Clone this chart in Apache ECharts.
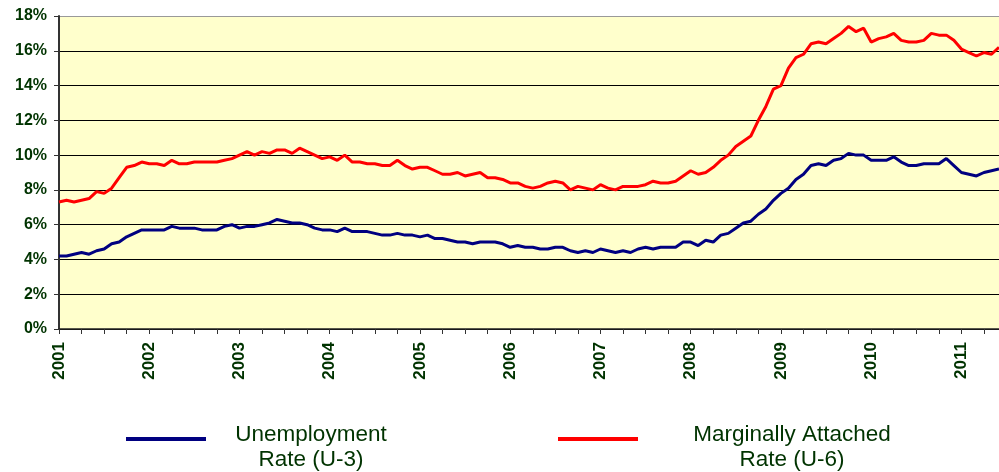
<!DOCTYPE html>
<html>
<head>
<meta charset="utf-8">
<script src="https://cdn.jsdelivr.net/npm/echarts@6/dist/echarts.min.js"></script>
<style>
  html, body { margin: 0; padding: 0; background: #fff; }
  #chart { width: 999px; height: 472px; }
</style>
</head>
<body>
<div id="chart"></div>
<script>
// years on the axis, monthly points from Jan 2001 to Jun 2011
var years = ['2001', '2002', '2003', '2004', '2005', '2006', '2007', '2008', '2009', '2010', '2011'];
var monthsInLastYear = 6;

// Unemployment Rate (U-3), %
var u3 = [
    4.2, 4.2, 4.3, 4.4, 4.3, 4.5, 4.6, 4.9, 5.0, 5.3, 5.5, 5.7,
    5.7, 5.7, 5.7, 5.9, 5.8, 5.8, 5.8, 5.7, 5.7, 5.7, 5.9, 6.0,
    5.8, 5.9, 5.9, 6.0, 6.1, 6.3, 6.2, 6.1, 6.1, 6.0, 5.8, 5.7,
    5.7, 5.6, 5.8, 5.6, 5.6, 5.6, 5.5, 5.4, 5.4, 5.5, 5.4, 5.4,
    5.3, 5.4, 5.2, 5.2, 5.1, 5.0, 5.0, 4.9, 5.0, 5.0, 5.0, 4.9,
    4.7, 4.8, 4.7, 4.7, 4.6, 4.6, 4.7, 4.7, 4.5, 4.4, 4.5, 4.4,
    4.6, 4.5, 4.4, 4.5, 4.4, 4.6, 4.7, 4.6, 4.7, 4.7, 4.7, 5.0,
    5.0, 4.8, 5.1, 5.0, 5.4, 5.5, 5.8, 6.1, 6.2, 6.6, 6.9, 7.4,
    7.8, 8.1, 8.6, 8.9, 9.4, 9.5, 9.4, 9.7, 9.8, 10.1, 10.0, 10.0,
    9.7, 9.7, 9.7, 9.9, 9.6, 9.4, 9.4, 9.5, 9.5, 9.5, 9.8, 9.4,
    9.0, 8.9, 8.8, 9.0, 9.1, 9.2
];

// Marginally Attached Rate (U-6), %
var u6 = [
    7.3, 7.4, 7.3, 7.4, 7.5, 7.9, 7.8, 8.1, 8.7, 9.3, 9.4, 9.6,
    9.5, 9.5, 9.4, 9.7, 9.5, 9.5, 9.6, 9.6, 9.6, 9.6, 9.7, 9.8,
    10.0, 10.2, 10.0, 10.2, 10.1, 10.3, 10.3, 10.1, 10.4, 10.2, 10.0, 9.8,
    9.9, 9.7, 10.0, 9.6, 9.6, 9.5, 9.5, 9.4, 9.4, 9.7, 9.4, 9.2,
    9.3, 9.3, 9.1, 8.9, 8.9, 9.0, 8.8, 8.9, 9.0, 8.7, 8.7, 8.6,
    8.4, 8.4, 8.2, 8.1, 8.2, 8.4, 8.5, 8.4, 8.0, 8.2, 8.1, 8.0,
    8.3, 8.1, 8.0, 8.2, 8.2, 8.2, 8.3, 8.5, 8.4, 8.4, 8.5, 8.8,
    9.1, 8.9, 9.0, 9.3, 9.7, 10.0, 10.5, 10.8, 11.1, 12.0, 12.8, 13.8,
    14.0, 15.0, 15.6, 15.8, 16.4, 16.5, 16.4, 16.7, 17.0, 17.4, 17.1, 17.3,
    16.5, 16.7, 16.8, 17.0, 16.6, 16.5, 16.5, 16.6, 17.0, 16.9, 16.9, 16.6,
    16.1, 15.9, 15.7, 15.9, 15.8, 16.2
];

var u3Name = 'Unemployment Rate (U-3)';
var u6Name = 'Marginally Attached Rate (U-6)';

var months = [];
years.forEach(function (y, i) {
    var n = (i === years.length - 1) ? monthsInLastYear : 12;
    for (var m = 1; m <= n; m++) {
        months.push(y + '-' + (m < 10 ? '0' + m : m));
    }
});

var font = "'Liberation Sans', Arial, sans-serif";
var textColor = '#003300';

// black grid lines, top one gray
var splitColors = [];
for (var k = 0; k < 9; k++) splitColors.push('#000');
splitColors.push('#999');

var option = {
    animation: false,
    backgroundColor: '#fff',
    grid: {
        left: 59, right: 0, top: 16, bottom: 143,
        show: true,
        backgroundColor: '#FFFFCC',
        borderWidth: 0
    },
    xAxis: {
        type: 'category',
        data: months,
        boundaryGap: false,
        axisLine: { lineStyle: { color: '#222', width: 1.5 } },
        axisTick: {
            length: 5,
            lineStyle: { color: '#333' },
            interval: function (idx) { return idx % 3 === 0; }
        },
        axisLabel: {
            rotate: 90,
            margin: 13,
            interval: function (idx) { return idx % 12 === 0; },
            formatter: function (v) { return v.slice(0, 4); },
            color: textColor,
            fontWeight: 'bold',
            fontSize: 17,
            fontFamily: font
        },
        splitLine: { show: false }
    },
    yAxis: {
        type: 'value',
        min: 0, max: 18, interval: 2,
        axisLine: { show: true, lineStyle: { color: '#333', width: 2 } },
        axisTick: { show: true, length: 5, lineStyle: { color: '#333' } },
        axisLabel: {
            formatter: '{value}%',
            margin: 12,
            color: textColor,
            fontWeight: 'bold',
            fontSize: 16,
            fontFamily: font
        },
        splitLine: { lineStyle: { color: splitColors, width: 1 } }
    },
    legend: [{
        data: [u3Name],
        left: 121, top: 418,
        icon: 'rect', itemWidth: 80, itemHeight: 4,
        selectedMode: false,
        formatter: function () { return '{a|Unemployment}\n{a|Rate (U-3)}'; },
        textStyle: {
            padding: [16, 0, 0, 0],
            rich: { a: { width: 200, align: 'center', fontSize: 22.5, lineHeight: 25, color: textColor, fontFamily: font } }
        }
    }, {
        data: [u6Name],
        left: 553, top: 418,
        icon: 'rect', itemWidth: 80, itemHeight: 4,
        selectedMode: false,
        formatter: function () { return '{a|Marginally Attached}\n{a|Rate (U-6)}'; },
        textStyle: {
            padding: [16, 0, 0, 0],
            rich: { a: { width: 298, align: 'center', fontSize: 22.5, lineHeight: 25, color: textColor, fontFamily: font } }
        }
    }],
    series: [{
        name: u3Name,
        type: 'line',
        data: u3,
        showSymbol: false,
        color: '#000080',
        lineStyle: { color: '#000080', width: 3 }
    }, {
        name: u6Name,
        type: 'line',
        data: u6,
        showSymbol: false,
        color: '#FF0000',
        lineStyle: { color: '#FF0000', width: 3 }
    }]
};

var myChart = echarts.init(document.getElementById('chart'));
myChart.setOption(option);
</script>
</body>
</html>
